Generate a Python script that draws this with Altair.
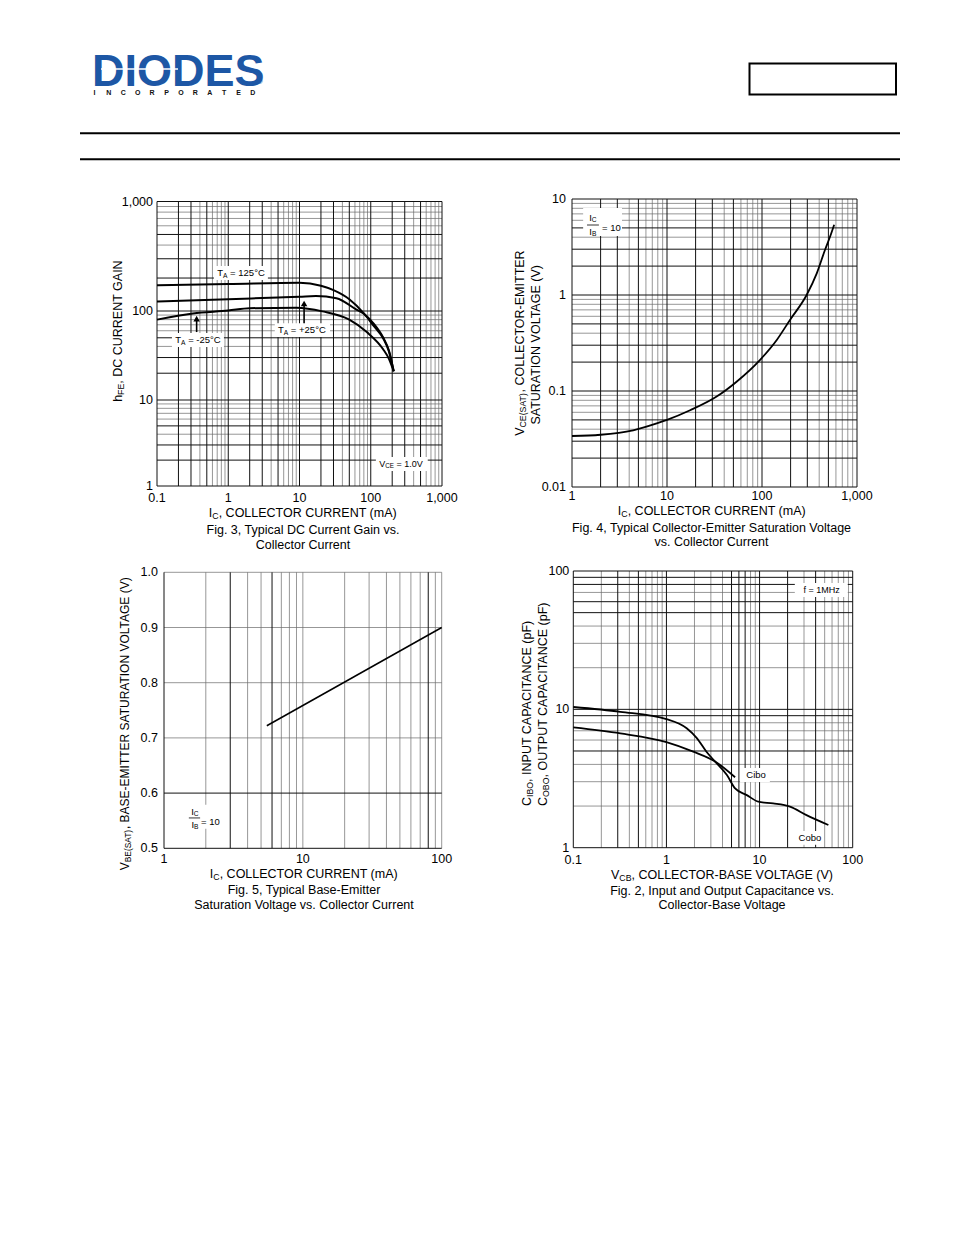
import math
import altair as alt
import pandas as pd

FONT = "Liberation Sans"
BLUE = "#1d57a5"
OFF = 8

# ---------------- data ----------------
# Fig. 3  hFE vs IC (mA)
f3_ic_125 = [0.1, 1, 10, 20, 30, 50, 80, 110, 150, 180, 210]
f3_hfe_125 = [172, 176, 181, 170, 155, 128, 94, 68, 49, 35, 21]
f3_ic_25 = [0.1, 1, 5, 10, 17, 33, 63, 80, 110, 150, 180, 210]
f3_hfe_25 = [122, 128, 133, 135, 137, 131, 103, 93, 72, 50, 36, 21]
f3_ic_m25 = [0.1, 0.32, 1, 2, 9, 21, 50, 88, 150, 180, 210]
f3_hfe_m25 = [80, 94, 101, 106, 107, 99, 80, 58, 37, 29, 21]
f3_xticks = [0.1, 1, 10, 100, 1000]
f3_xlabels = ["0.1", "1", "10", "100", "1,000"]
f3_yticks = [1, 10, 100, 1000]
f3_ylabels = ["1", "10", "100", "1,000"]

# Fig. 4  VCE(SAT) vs IC
f4_ic = [1, 2, 4.4, 7.8, 10, 17.5, 33, 54, 95, 143, 197, 295, 377, 460, 520, 575]
f4_vce = [0.034, 0.035, 0.039, 0.046, 0.05, 0.063, 0.087, 0.125, 0.21, 0.34,
          0.55, 1.0, 1.68, 2.94, 4.04, 5.4]
f4_xticks = [1, 10, 100, 1000]
f4_xlabels = ["1", "10", "100", "1,000"]
f4_yticks = [0.01, 0.1, 1, 10]
f4_ylabels = ["0.01", "0.1", "1", "10"]

# Fig. 5  VBE(SAT) vs IC
f5_ic = [5.5, 100]
f5_vbe = [0.722, 0.900]
f5_xticks = [1, 10, 100]
f5_xlabels = ["1", "10", "100"]
f5_yticks = [0.5, 0.6, 0.7, 0.8, 0.9, 1.0]
f5_ylabels = ["0.5", "0.6", "0.7", "0.8", "0.9", "1.0"]

# Fig. 2  capacitance vs VCB
f2_v_cobo = [0.1, 0.32, 1.0, 1.65, 2.12, 2.69, 3.33, 4.46, 5.46, 7.3, 9.7, 14, 21.2, 31.9, 54.8]
f2_c_cobo = [10.4, 9.6, 8.5, 7.3, 6.2, 4.94, 4.19, 3.35, 2.68, 2.4, 2.15, 2.09, 1.98, 1.72, 1.46]
f2_v_cibo = [0.1, 0.32, 1.0, 1.94, 3.33, 5.46]
f2_c_cibo = [7.4, 6.7, 5.8, 4.95, 4.2, 3.23]
f2_xticks = [0.1, 1, 10, 100]
f2_xlabels = ["0.1", "1", "10", "100"]
f2_yticks = [1, 10, 100]
f2_ylabels = ["1", "10", "100"]

# ---------------- helpers ----------------
ONE = pd.DataFrame({"z": [0]})

CW = {' ': 278, '!': 278, '(': 333, ')': 333, ',': 278, '-': 333, '.': 278, '/': 278,
      ':': 278, '=': 584, '+': 584, '°': 400}
for _c in "0123456789":
    CW[_c] = 556
CW.update(dict(A=667, B=667, C=722, D=722, E=667, F=611, G=778, H=722, I=278, J=500,
               K=667, L=556, M=833, N=722, O=778, P=667, Q=778, R=722, S=667, T=611,
               U=722, V=667, W=944, X=667, Y=667, Z=611))
CW.update(dict(a=556, b=556, c=500, d=556, e=556, f=278, g=556, h=556, i=222, j=222,
               k=500, l=222, m=833, n=556, o=556, p=556, q=556, r=333, s=500, t=278,
               u=556, v=500, w=722, x=500, y=500, z=500))


def tw(s, size):
    return sum(CW.get(c, 556) for c in s) * size / 1000.0


def rich(segs, size, enc, data=None, angle=0, align="middle", color="black", sub=0.7):
    ws = [tw(t, size * sub if s else size) for t, s in segs]
    total = sum(ws)
    cur = {"start": 0.0, "middle": -total / 2.0, "end": -total}[align]
    out = []
    for (t, s), w in zip(segs, ws):
        fs = size * sub if s else size
        nlead = len(t) - len(t.lstrip(" "))
        txt = t.lstrip(" ")
        out.append(
            alt.Chart(data if data is not None else ONE).mark_text(
                text=txt, font=FONT, fontSize=fs, align="left", baseline="middle",
                dx=cur + tw(" " * nlead, fs), dy=(0.26 * size if s else 0), angle=angle,
                color=color
            ).encode(**enc)
        )
        cur += w
    return out


def pix(x, y):
    return {"x": alt.value(x - OFF), "y": alt.value(y - OFF)}


def at(sx, sy, x, y):
    df = pd.DataFrame({"x": [x], "y": [y]})
    enc = {"x": alt.X("x:Q", scale=sx, axis=None), "y": alt.Y("y:Q", scale=sy, axis=None)}
    return df, enc


def log_values(lo, hi):
    out = []
    for e in range(lo, hi):
        for k in range(1, 10):
            out.append(round(k * 10.0 ** e, 8))
    out.append(round(10.0 ** hi, 8))
    return out


def lead(v):
    e = math.floor(math.log10(v) + 1e-9)
    return int(round(v / 10 ** e))


def is_in(v, lst):
    return any(abs(v - d) < 1e-7 * max(1.0, abs(d)) for d in lst)


DARK = "#111111"
LIGHT = "#6a6a6a"


def vgrid(vals, sx, sy, ylo, yhi, color, width):
    df = pd.DataFrame({"g": vals, "a": [ylo] * len(vals), "b": [yhi] * len(vals)})
    return alt.Chart(df).mark_rule(color=color, strokeWidth=width).encode(
        x=alt.X("g:Q", scale=sx, axis=None), y=alt.Y("a:Q", scale=sy, axis=None), y2="b:Q")


def hgrid(vals, sx, sy, xlo, xhi, color, width):
    df = pd.DataFrame({"g": vals, "a": [xlo] * len(vals), "b": [xhi] * len(vals)})
    return alt.Chart(df).mark_rule(color=color, strokeWidth=width).encode(
        y=alt.Y("g:Q", scale=sy, axis=None), x=alt.X("a:Q", scale=sx, axis=None), x2="b:Q")


def grids(xvals, yvals, xdark, ydark, sx, sy, xd, yd):
    xdv = [v for v in xvals if xdark(v)]
    xlv = [v for v in xvals if not xdark(v)]
    ydv = [v for v in yvals if ydark(v)]
    ylv = [v for v in yvals if not ydark(v)]
    return [
        vgrid(xlv, sx, sy, yd[0], yd[1], LIGHT, 0.7),
        hgrid(ylv, sx, sy, xd[0], xd[1], LIGHT, 0.7),
        vgrid(xdv, sx, sy, yd[0], yd[1], DARK, 1.0),
        hgrid(ydv, sx, sy, xd[0], xd[1], DARK, 1.0),
    ]


def curve(xs, ys, sx, sy, width=2.0):
    df = pd.DataFrame({"x": xs, "y": ys, "i": list(range(len(xs)))})
    return alt.Chart(df).mark_line(color="black", strokeWidth=width, interpolate="monotone").encode(
        x=alt.X("x:Q", scale=sx, axis=None), y=alt.Y("y:Q", scale=sy, axis=None), order="i:Q")


def xtick_text(vals, labels, sx, sy, yat, dy, size=12.5):
    df = pd.DataFrame({"v": vals, "lab": labels, "ya": [yat] * len(vals)})
    return alt.Chart(df).mark_text(font=FONT, fontSize=size, align="center", baseline="middle",
                                   dy=dy, color="black").encode(
        x=alt.X("v:Q", scale=sx, axis=None), y=alt.Y("ya:Q", scale=sy, axis=None), text="lab:N")


def ytick_text(vals, labels, sx, sy, xat, dx, size=12.5):
    df = pd.DataFrame({"v": vals, "lab": labels, "xa": [xat] * len(vals)})
    return alt.Chart(df).mark_text(font=FONT, fontSize=size, align="right", baseline="middle",
                                   dx=dx, color="black").encode(
        y=alt.Y("v:Q", scale=sy, axis=None), x=alt.X("xa:Q", scale=sx, axis=None), text="lab:N")


def bg(sx, sy, x1, x2, y1, y2):
    df = pd.DataFrame({"x1": [x1], "x2": [x2], "y1": [y1], "y2": [y2]})
    return alt.Chart(df).mark_rect(color="white").encode(
        x=alt.X("x1:Q", scale=sx, axis=None), x2="x2:Q",
        y=alt.Y("y1:Q", scale=sy, axis=None), y2="y2:Q")


def arrow(sx, sy, x, y_tail, y_tip):
    df = pd.DataFrame({"x": [x], "a": [y_tail], "b": [y_tip]})
    r = alt.Chart(df).mark_rule(color="black", strokeWidth=1.6).encode(
        x=alt.X("x:Q", scale=sx, axis=None), y=alt.Y("a:Q", scale=sy, axis=None), y2="b:Q")
    p = alt.Chart(df).mark_point(shape="triangle-up", filled=True, color="black",
                                 size=42, opacity=1).encode(
        x=alt.X("x:Q", scale=sx, axis=None), y=alt.Y("b:Q", scale=sy, axis=None))
    return [r, p]


def ptext(t, x, y, size, align="center", angle=0, weight="normal", color="black"):
    return alt.Chart(ONE).mark_text(text=t, font=FONT, fontSize=size, align=align,
                                    baseline="middle", angle=angle, fontWeight=weight,
                                    color=color).encode(**pix(x, y))


# ---------------- header ----------------
header = []
header.append(alt.Chart(ONE).mark_text(text="DIODES", font=FONT, fontSize=45, fontWeight="bold",
                                       color=BLUE, align="left", baseline="alphabetic").encode(**pix(92, 86)))
header.append(alt.Chart(ONE).mark_rule(color="white", strokeWidth=1.5).encode(
    x=alt.value(101 - OFF), x2=alt.value(178 - OFF), y=alt.value(69 - OFF)))
for i, ch in enumerate("INCORPORATED"):
    header.append(ptext(ch, 94.5 + i * 14.4, 92.5, 7, weight="bold", color="#111111"))
header.append(ptext("®", 260, 82, 7, color=BLUE))
header.append(alt.Chart(ONE).mark_rect(fill="white", stroke="black", strokeWidth=2).encode(
    x=alt.value(749.5 - OFF), x2=alt.value(896 - OFF), y=alt.value(63.5 - OFF), y2=alt.value(94.5 - OFF)))
for yy in (133.3, 159.3):
    header.append(alt.Chart(ONE).mark_rule(color="black", strokeWidth=2).encode(
        x=alt.value(80 - OFF), x2=alt.value(900 - OFF), y=alt.value(yy - OFF)))

# ---------------- Fig. 3 ----------------
sx3 = alt.Scale(type="log", domain=[0.1, 1000], range=[157 - OFF, 442 - OFF], nice=False)
sy3 = alt.Scale(type="log", domain=[1, 10, 100, 1000],
                range=[486 - OFF, 400 - OFF, 311 - OFF, 201.5 - OFF], nice=False)
L3 = grids(log_values(-1, 3), log_values(0, 3),
           lambda v: lead(v) in (1, 2, 3, 5), lambda v: lead(v) in (1, 2, 3, 5),
           sx3, sy3, (0.1, 1000), (1, 1000))
L3 += [bg(sx3, sy3, 0.63, 3.6, 192, 258), bg(sx3, sy3, 4.5, 26.8, 51, 73),
       bg(sx3, sy3, 0.162, 0.87, 39.5, 56.6), bg(sx3, sy3, 118, 631, 1.49, 2.17)]
L3 += [curve(f3_ic_125, f3_hfe_125, sx3, sy3, 2.0),
       curve(f3_ic_25, f3_hfe_25, sx3, sy3, 2.0),
       curve(f3_ic_m25, f3_hfe_m25, sx3, sy3, 2.0)]
L3 += arrow(sx3, sy3, 11.6, 73, 117)
L3 += arrow(sx3, sy3, 0.36, 58, 82)
L3 += [xtick_text(f3_xticks, f3_xlabels, sx3, sy3, 1, 12),
       ytick_text(f3_yticks, f3_ylabels, sx3, sy3, 0.1, -4)]
d, e = at(sx3, sy3, 1.51, 222)
L3 += rich([("T", 0), ("A", 1), (" = 125°C", 0)], 9.5, e, data=d)
d, e = at(sx3, sy3, 10.8, 61)
L3 += rich([("T", 0), ("A", 1), (" = +25°C", 0)], 9.5, e, data=d)
d, e = at(sx3, sy3, 0.376, 47)
L3 += rich([("T", 0), ("A", 1), (" = -25°C", 0)], 9.5, e, data=d)
d, e = at(sx3, sy3, 266, 1.8)
L3 += rich([("V", 0), ("CE", 1), (" = 1.0V", 0)], 9.0, e, data=d)
p3 = alt.layer(*L3)

T3 = []
T3 += rich([("h", 0), ("FE", 1), (", DC CURRENT GAIN", 0)], 12.5, pix(118, 331), angle=270)
T3 += rich([("I", 0), ("C", 1), (", COLLECTOR CURRENT (mA)", 0)], 12.5, pix(303, 513))
T3 += [ptext("Fig. 3, Typical DC Current Gain vs.", 303, 530, 12.5),
       ptext("Collector Current", 303, 544.5, 12.5)]

# ---------------- Fig. 4 ----------------
sx4 = alt.Scale(type="log", domain=[1, 1000], range=[572 - OFF, 857 - OFF], nice=False)
sy4 = alt.Scale(type="log", domain=[0.01, 10], range=[487 - OFF, 199 - OFF], nice=False)
L4 = grids(log_values(0, 3), log_values(-2, 1),
           lambda v: lead(v) in (1, 2, 3, 5), lambda v: lead(v) in (1, 2, 3, 5),
           sx4, sy4, (1, 1000), (0.01, 10))
L4 += [bg(sx4, sy4, 1.31, 3.36, 4.12, 8.05)]
L4 += [curve(f4_ic, f4_vce, sx4, sy4, 1.8)]
L4 += [xtick_text(f4_xticks, f4_xlabels, sx4, sy4, 0.01, 9),
       ytick_text(f4_yticks, f4_ylabels, sx4, sy4, 1, -6)]
d, e = at(sx4, sy4, 1.66, 6.34)
L4 += rich([("I", 0), ("C", 1)], 9.5, e, data=d)
d, e = at(sx4, sy4, 1.66, 4.53)
L4 += rich([("I", 0), ("B", 1)], 9.5, e, data=d)
d, e = at(sx4, sy4, 2.07, 4.99)
L4 += rich([("= 10", 0)], 9.5, e, data=d, align="start")
_fr = pd.DataFrame({"a": [1.44], "b": [1.92], "y": [5.36]})
L4 += [alt.Chart(_fr).mark_rule(color="black", strokeWidth=0.8).encode(
    x=alt.X("a:Q", scale=sx4, axis=None), x2="b:Q", y=alt.Y("y:Q", scale=sy4, axis=None))]
p4 = alt.layer(*L4)

T4 = []
T4 += rich([("V", 0), ("CE(SAT)", 1), (", COLLECTOR-EMITTER", 0)], 12.5, pix(520, 343), angle=270)
T4 += rich([("SATURATION VOLTAGE (V)", 0)], 12.5, pix(535.5, 343), angle=270)
T4 += rich([("I", 0), ("C", 1), (", COLLECTOR CURRENT (mA)", 0)], 12.5, pix(712, 510.5))
T4 += [ptext("Fig. 4, Typical Collector-Emitter Saturation Voltage", 711.5, 528, 12.5),
       ptext("vs. Collector Current", 711.5, 542, 12.5)]

# ---------------- Fig. 5 ----------------
sx5 = alt.Scale(type="log", domain=[1, 100], range=[164 - OFF, 441.7 - OFF], nice=False)
sy5 = alt.Scale(type="linear", domain=[0.5, 1.0], range=[848.3 - OFF, 572.3 - OFF], nice=False, zero=False)
L5 = grids(log_values(0, 2), [0.5, 0.6, 0.7, 0.8, 0.9, 1.0],
           lambda v: is_in(v, [1, 3, 6, 80]), lambda v: is_in(v, [0.5, 0.6]),
           sx5, sy5, (1, 100), (0.5, 1.0))
L5 += [bg(sx5, sy5, 1.44, 2.49, 0.5353, 0.5788)]
L5 += [curve(f5_ic, f5_vbe, sx5, sy5, 1.5)]
L5 += [xtick_text(f5_xticks, f5_xlabels, sx5, sy5, 0.5, 11),
       ytick_text(f5_yticks, f5_ylabels, sx5, sy5, 1, -6)]
d, e = at(sx5, sy5, 1.67, 0.5658)
L5 += rich([("I", 0), ("C", 1)], 9.5, e, data=d)
d, e = at(sx5, sy5, 1.67, 0.5422)
L5 += rich([("I", 0), ("B", 1)], 9.5, e, data=d)
d, e = at(sx5, sy5, 1.85, 0.5476)
L5 += rich([("= 10", 0)], 9.5, e, data=d, align="start")
_fr5 = pd.DataFrame({"a": [1.51], "b": [1.82], "y": [0.555]})
L5 += [alt.Chart(_fr5).mark_rule(color="black", strokeWidth=0.8).encode(
    x=alt.X("a:Q", scale=sx5, axis=None), x2="b:Q", y=alt.Y("y:Q", scale=sy5, axis=None))]
p5 = alt.layer(*L5)

T5 = []
T5 += rich([("V", 0), ("BE(SAT)", 1), (", BASE-EMITTER SATURATION VOLTAGE (V)", 0)], 12.0,
           pix(125, 722), angle=270)
T5 += rich([("I", 0), ("C", 1), (", COLLECTOR CURRENT (mA)", 0)], 12.5, pix(304, 874))
T5 += [ptext("Fig. 5, Typical Base-Emitter", 304, 890, 12.5),
       ptext("Saturation Voltage vs. Collector Current", 304, 904.5, 12.5)]

# ---------------- Fig. 2 ----------------
sx2 = alt.Scale(type="log", domain=[0.1, 100], range=[573.3 - OFF, 852.7 - OFF], nice=False)
sy2 = alt.Scale(type="log", domain=[1, 100], range=[847.7 - OFF, 571 - OFF], nice=False)
L2 = grids(log_values(-1, 2), log_values(0, 2),
           lambda v: is_in(v, [0.1, 0.3, 0.5, 1, 5, 6, 7, 10, 20, 40, 100]),
           lambda v: is_in(v, [1, 5, 9, 10, 50, 60, 80, 90, 100]),
           sx2, sy2, (0.1, 100), (1, 100))
L2 += [bg(sx2, sy2, 6.17, 12.9, 2.98, 3.77), bg(sx2, sy2, 25.9, 46.8, 1.05, 1.32),
       bg(sx2, sy2, 23.9, 88.5, 64.9, 81.8)]
L2 += [curve(f2_v_cobo, f2_c_cobo, sx2, sy2, 1.8), curve(f2_v_cibo, f2_c_cibo, sx2, sy2, 1.8)]
L2 += [xtick_text(f2_xticks, f2_xlabels, sx2, sy2, 1, 12),
       ytick_text(f2_yticks, f2_ylabels, sx2, sy2, 0.1, -4)]
d, e = at(sx2, sy2, 9.17, 3.35)
L2 += rich([("Cibo", 0)], 9.5, e, data=d)
d, e = at(sx2, sy2, 34.7, 1.175)
L2 += rich([("Cobo", 0)], 9.5, e, data=d)
d, e = at(sx2, sy2, 46.5, 73)
L2 += rich([("f = 1MHz", 0)], 9.0, e, data=d)
p2 = alt.layer(*L2)

T2 = []
T2 += rich([("C", 0), ("IBO", 1), (", INPUT CAPACITANCE (pF)", 0)], 12.5, pix(527, 806),
           angle=270, align="start")
T2 += rich([("C", 0), ("OBO", 1), (", OUTPUT CAPACITANCE (pF)", 0)], 12.5, pix(543, 806),
           angle=270, align="start")
T2 += rich([("V", 0), ("CB", 1), (", COLLECTOR-BASE VOLTAGE (V)", 0)], 12.5, pix(723, 874.5))
T2 += [ptext("Fig. 2, Input and Output Capacitance vs.", 722, 891, 12.5),
       ptext("Collector-Base Voltage", 722, 905, 12.5)]

chart = alt.layer(
    *header, *T3, *T4, *T5, *T2, p3, p4, p5, p2
).resolve_scale(
    x="independent", y="independent"
).properties(
    width=938, height=1219, padding=0, autosize=alt.AutoSizeParams(type="none")
).configure_view(strokeWidth=0)

chart.save("out.html", embed_options={"renderer": "svg", "actions": False})
